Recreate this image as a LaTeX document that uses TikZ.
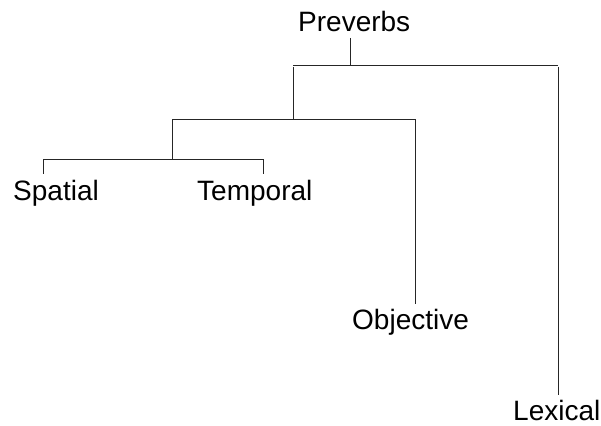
\documentclass[tikz,border=0pt]{standalone}
\usepackage{fontspec}
\setmainfont{Liberation Sans}
\begin{document}
\begin{tikzpicture}[x=1pt,y=-1pt,
  lbl/.style={anchor=base west,inner sep=0pt,font=\fontsize{28}{31}\selectfont},
  branch/.style={draw=black!85,line width=0.9pt}]
\useasboundingbox (0,0) rectangle (601,425);
\node[lbl] (pre) at (298,32) {Preverbs};
\node[lbl] (spa) at (13,200) {Spatial};
\node[lbl] (tem) at (197,200) {Temporal};
\node[lbl] (obj) at (352,329) {Objective};
\node[lbl] (lex) at (513,420) {Lexical};
% junctions
\coordinate (pTop) at (350,38);
\coordinate (j1) at (350,65);
\coordinate (j1L) at (293,65);
\coordinate (j1R) at (558,65);
\coordinate (j2) at (293,119);
\coordinate (j2L) at (172,119);
\coordinate (j2R) at (415,119);
\coordinate (j3) at (172,159);
\coordinate (j3L) at (43,159);
\coordinate (j3R) at (263,159);
\coordinate (sEnd) at (43,174);
\coordinate (tEnd) at (263,174);
\coordinate (oEnd) at (415,304);
\coordinate (lEnd) at (558,395);
\draw[branch] (pTop) -- (j1);
\draw[branch] (j1L) -- (j1R);
\draw[branch] ([yshift=-2pt]j1L) -- (j2);
\draw[branch] ([yshift=-2pt]j1R) -- (lEnd);
\draw[branch] (j2L) -- (j2R);
\draw[branch] (j2L) -- (j3);
\draw[branch] (j2R) -- (oEnd);
\draw[branch] (j3L) -- (j3R);
\draw[branch] (j3L) -- (sEnd);
\draw[branch] (j3R) -- (tEnd);
\end{tikzpicture}
\end{document}
